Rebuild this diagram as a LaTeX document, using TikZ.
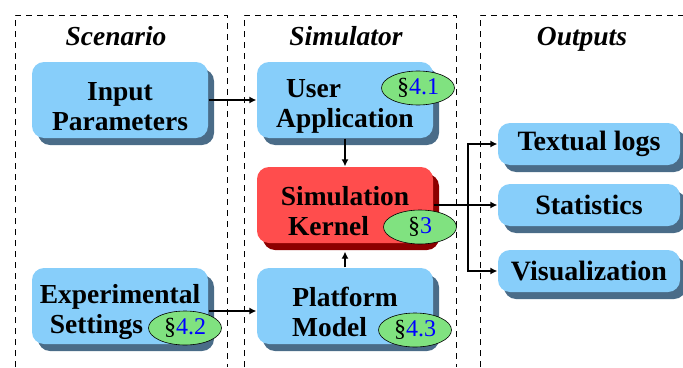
\documentclass[tikz,border=0pt]{standalone}
\usepackage{fontspec}
\setmainfont{Liberation Serif}
\usepackage{xcolor}
\usetikzlibrary{arrows,arrows.meta,positioning,shadows,shapes.geometric}
\definecolor{boxblue}{RGB}{135,206,250}
\definecolor{boxshade}{RGB}{74,108,136}
\definecolor{kernred}{RGB}{255,77,77}
\definecolor{kernshade}{RGB}{140,0,0}
\definecolor{taggreen}{RGB}{128,226,128}
\newcommand{\bigbf}{\fontsize{27.5}{30}\selectfont\bfseries}
\newcommand{\tagroom}[1]{\hspace*{#1}}
\newcommand{\padtop}{\rule{0pt}{31pt}}
\tikzset{%
	shadowed/.style = {general shadow={fill=#1, shadow xshift=6pt, shadow yshift=-7pt}},
	block/.style    = {rectangle, rounded corners=12pt, fill=boxblue, shadowed=boxshade, minimum width=176pt, minimum height=76pt, inner sep=2pt, align=center, font=\bigbf},
	kernel/.style   = {rectangle, rounded corners=12pt, fill=kernred, shadowed=kernshade, minimum width=176pt, minimum height=76pt, inner sep=2pt, align=center, font=\bigbf},
	outbox/.style   = {rectangle, rounded corners=12pt, fill=boxblue, shadowed=boxshade, minimum width=182pt, minimum height=42pt, inner sep=2pt, font=\fontsize{28}{30}\selectfont\bfseries},
	tag/.style      = {draw, ellipse, fill=taggreen, line width=0.6pt, minimum width=73pt, minimum height=34pt, inner sep=0pt, font=\fontsize{24}{26}\selectfont},
	title/.style    = {anchor=base, font=\bigbf\itshape},
	column/.style   = {dash pattern=on 6pt off 5pt, line width=0.8pt},
}
\begin{document}
\begin{tikzpicture}[x=1pt,y=-1pt,node distance=225pt,>={Latex[length=7pt,width=7pt]},line width=1.3pt]
	\useasboundingbox (0,0) rectangle (683,367);
	% columns
	\draw[column] (15,367) -- (15,15) -- (227,15) -- (227,367);
	\draw[column] (244,367) -- (244,15) -- (456,15) -- (456,367);
	\draw[column] (480,367) -- (480,15) -- (683,15);
	\node [title] (tscen) at (116,45) {Scenario};
	\node [title] (tsim) at (346,45) {Simulator};
	\node [title] (tout) at (582,45) {Outputs};
	
	\node [block] (inp) at (120,100) {\padtop Input\\Parameters};
	\node [block] (app) [right of=inp] {\padtop User\tagroom{63pt}\\Application};
	\node [kernel] (kern) [below of=app,node distance=105pt] {\padtop Simulation\\Kernel\tagroom{33pt}};
	\node [block] (plat) [below of=kern,node distance=101pt] {\padtop Platform\\Model\tagroom{31pt}};
	\node [block] (expt) [left of=plat] {\padtop Experimental\\Settings\tagroom{47pt}};
	
	\node [outbox] (logs) at (589,144) {Textual logs};
	\node [outbox] (stats) [below of=logs,node distance=61pt] {Statistics};
	\node [outbox] (vis) [below of=stats,node distance=66pt] {Visualization};
	\coordinate [right of=kern,node distance=123pt] (fork);
	
	\node [tag] (t41) at ([shift={(73pt,12pt)}]app) {\S\textcolor{blue}{4.1}};
	\node [tag] (t3) at ([shift={(75pt,-22pt)}]kern) {\S\textcolor{blue}{3}};
	\node [tag] (t43) at ([shift={(70pt,-24pt)}]plat) {\S\textcolor{blue}{4.3}};
	\node [tag] (t42) at ([shift={(65pt,-22pt)}]expt) {\S\textcolor{blue}{4.2}};
	
	\draw[->] (inp) -- (app);
	\draw[->] (app) -- (kern);
	\draw[->] (plat) -- ([yshift=-8pt]kern.south);
	\draw[->] ([yshift=-5pt]expt.east) -- ([yshift=-5pt]plat.west);
	\draw[->] (kern.east) -- (stats.west);
	\draw[->] (fork) |- (logs.west);
	\draw[->] (fork) |- (vis.west);
\end{tikzpicture}
\end{document}
